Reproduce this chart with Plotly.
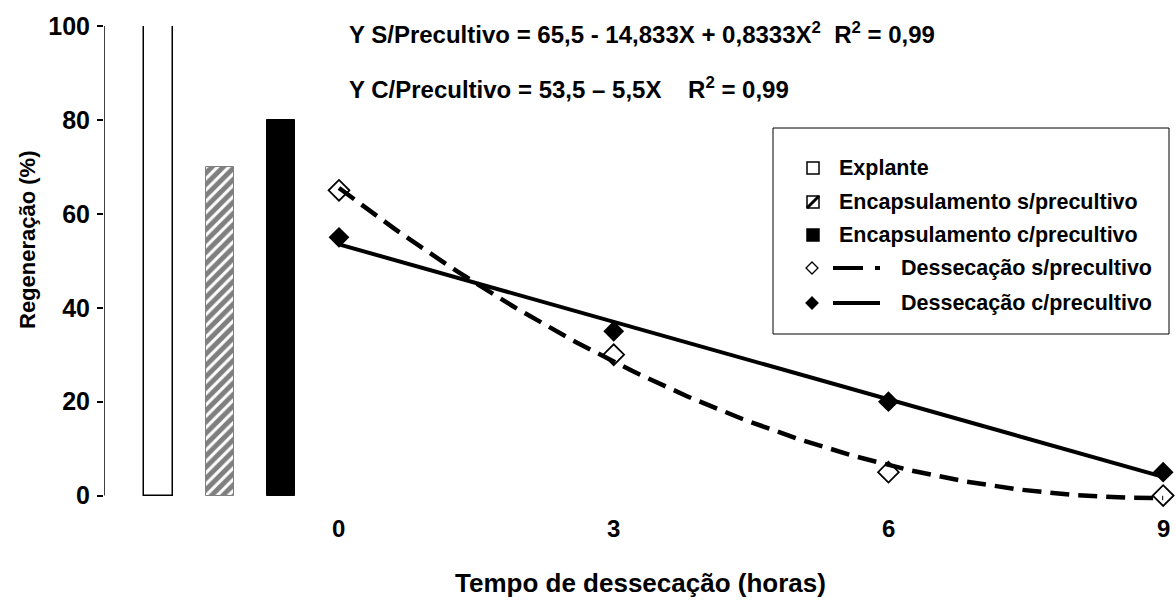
import numpy as np
import plotly.graph_objects as go

# ---- data -------------------------------------------------------------
bar_labels = ["Explante", "Encapsulamento s/precultivo", "Encapsulamento c/precultivo"]
bar_values = [100, 70, 80]

hours = [0, 3, 6, 9]
sem_precultivo = [65, 30, 5, 0]
com_precultivo = [55, 35, 20, 5]

y_ticks = [0, 20, 40, 60, 80, 100]

# fitted trend coefficients (c0, c1, c2) as printed in the equations
coef_sem = [65.5, -14.833, 0.8333]
coef_com = [53.5, -5.5, 0.0]

eq_sem = "Y S/Precultivo = 65,5 - 14,833X + 0,8333X<sup>2</sup>\u00a0\u00a0R<sup>2</sup> = 0,99"
eq_com = "Y C/Precultivo = 53,5 \u2013 5,5X\u00a0\u00a0\u00a0\u00a0R<sup>2</sup> = 0,99"

# ---- layout geometry (pixels) -------------------------------------------
W, H = 1176, 606
L, R, T, B = 104, 1176, 26, 505
X_RANGE = [-2.566, 9.14]
Y_RANGE = [-2, 100]
BAR_X = [-1.97, -1.30, -0.63]
BAR_W = 0.31

FONT = "Liberation Sans, Arial, sans-serif"


def px(x):
    return (x - L) / (R - L)


def py(y):
    return (B - y) / (B - T)


def poly(c, x):
    x = np.asarray(x, dtype=float)
    return c[0] + c[1] * x + c[2] * x ** 2


fig = go.Figure()

# bars
bar_styles = [
    dict(color="white", line=dict(color="black", width=1.5)),
    dict(color="white", line=dict(color="#808080", width=1),
         pattern=dict(shape="/", fgcolor="black", bgcolor="white", size=8, solidity=0.62)),
    dict(color="black", line=dict(color="black", width=1)),
]
for i in range(len(bar_values)):
    fig.add_trace(go.Bar(
        x=[BAR_X[i]], y=[bar_values[i]], width=BAR_W, name=bar_labels[i],
        marker=bar_styles[i], showlegend=False,
    ))

# trend lines
xt = np.linspace(hours[0], hours[-1], 181)
fig.add_trace(go.Scatter(
    x=xt, y=poly(coef_sem, xt), mode="lines", showlegend=False,
    line=dict(color="black", width=4.5, dash="19px,9px"),
))
fig.add_trace(go.Scatter(
    x=xt, y=poly(coef_com, xt), mode="lines", showlegend=False,
    line=dict(color="black", width=4),
))

# observed points
fig.add_trace(go.Scatter(
    x=hours, y=sem_precultivo, mode="markers", name="Dessecação s/precultivo",
    marker=dict(symbol="diamond-open", size=16, color="black", line=dict(width=1.8)),
    showlegend=False, cliponaxis=False,
))
fig.add_trace(go.Scatter(
    x=hours, y=com_precultivo, mode="markers", name="Dessecação c/precultivo",
    marker=dict(symbol="diamond", size=16, color="black"),
    showlegend=False, cliponaxis=False,
))

shapes = []
annotations = []

# y axis line from 0 to 100
shapes.append(dict(type="line", xref="x", yref="y", x0=X_RANGE[0], x1=X_RANGE[0],
                   y0=0, y1=100, line=dict(color="black", width=1.5)))

# x tick labels, placed on the data scale below the plot
tick_font = dict(family=FONT, size=24, color="black", weight="bold")
for h in hours:
    annotations.append(dict(text=str(h), xref="x", yref="paper", x=h, y=py(528),
                            xanchor="center", yanchor="middle", showarrow=False, font=tick_font))

# x title, centred on the plotting area
annotations.append(dict(text="Tempo de dessecação (horas)", xref="paper", yref="paper",
                        x=0.5, y=py(583),
                        xanchor="center", yanchor="middle", showarrow=False,
                        font=dict(family=FONT, size=26, color="black", weight="bold")))

# equations
eq_font = dict(family=FONT, size=24, color="black", weight="bold")
annotations.append(dict(text=eq_sem, xref="paper", yref="paper", x=px(347), y=py(33),
                        xanchor="left", yanchor="middle", showarrow=False, font=eq_font))
annotations.append(dict(text=eq_com, xref="paper", yref="paper", x=px(347), y=py(88),
                        xanchor="left", yanchor="middle", showarrow=False, font=eq_font))

# y title
annotations.append(dict(text="Regeneração (%)", xref="paper", yref="paper", x=px(27), y=py(240),
                        xanchor="center", yanchor="middle", textangle=-90, showarrow=False,
                        font=dict(family=FONT, size=22, color="black", weight="bold")))

# legend box
shapes.append(dict(type="rect", xref="paper", yref="paper", x0=px(773), x1=px(1169),
                   y0=py(128), y1=py(334), line=dict(color="black", width=1),
                   fillcolor="white", layer="above"))

rows = [168, 202, 235, 268, 303]
leg_font = dict(family=FONT, size=21.5, color="black", weight="bold")
sq = 6
# square swatches
for k, style in enumerate(["open", "hatch", "solid"]):
    cy = rows[k]
    shapes.append(dict(type="rect", xref="paper", yref="paper",
                       x0=px(813 - sq), x1=px(813 + sq), y0=py(cy + sq), y1=py(cy - sq),
                       line=dict(color="black", width=1.5),
                       fillcolor="black" if style == "solid" else "white", layer="above"))
    if style == "hatch":
        shapes.append(dict(type="line", xref="paper", yref="paper",
                           x0=px(813 - sq), y0=py(cy + sq), x1=px(813 + sq), y1=py(cy - sq),
                           line=dict(color="black", width=3), layer="above"))
    annotations.append(dict(text=bar_labels[k], xref="paper", yref="paper", x=px(837), y=py(cy),
                            xanchor="left", yanchor="middle", showarrow=False, font=leg_font))


def diamond_path(cx, cy, r):
    pts = [(cx, cy - r), (cx + r, cy), (cx, cy + r), (cx - r, cy)]
    return "M " + " L ".join(f"{px(a):.5f},{py(b):.5f}" for a, b in pts) + " Z"


line_labels = ["Dessecação s/precultivo", "Dessecação c/precultivo"]
for k in range(2):
    cy = rows[3 + k]
    shapes.append(dict(type="path", xref="paper", yref="paper", path=diamond_path(812, cy, 6),
                       line=dict(color="black", width=1.3),
                       fillcolor="white" if k == 0 else "black", layer="above"))
    shapes.append(dict(type="line", xref="paper", yref="paper", x0=px(833), x1=px(880),
                       y0=py(cy), y1=py(cy), layer="above",
                       line=dict(color="black", width=4, dash="30px,12px,5px" if k == 0 else "solid")))
    annotations.append(dict(text=line_labels[k], xref="paper", yref="paper", x=px(899), y=py(cy),
                            xanchor="left", yanchor="middle", showarrow=False, font=leg_font))

fig.update_layout(
    width=W, height=H,
    margin=dict(l=L, r=W - R, t=T, b=H - B, pad=0, autoexpand=False),
    paper_bgcolor="white", plot_bgcolor="white",
    barmode="overlay", bargap=0,
    shapes=shapes, annotations=annotations,
    font=dict(family=FONT, color="black"),
    xaxis=dict(
        range=X_RANGE, showgrid=False, zeroline=False, showline=False, automargin=False,
        showticklabels=False, ticks="",
    ),
    yaxis=dict(
        range=Y_RANGE, showgrid=False, zeroline=False, showline=False, automargin=False,
        tickvals=y_ticks, ticks="outside", ticklen=6,
        tickcolor="black", tickwidth=1.5, ticklabelstandoff=2,
        tickfont=dict(family=FONT, size=25, color="black", weight="bold"),
    ),
)

fig.write_html("out.html")
